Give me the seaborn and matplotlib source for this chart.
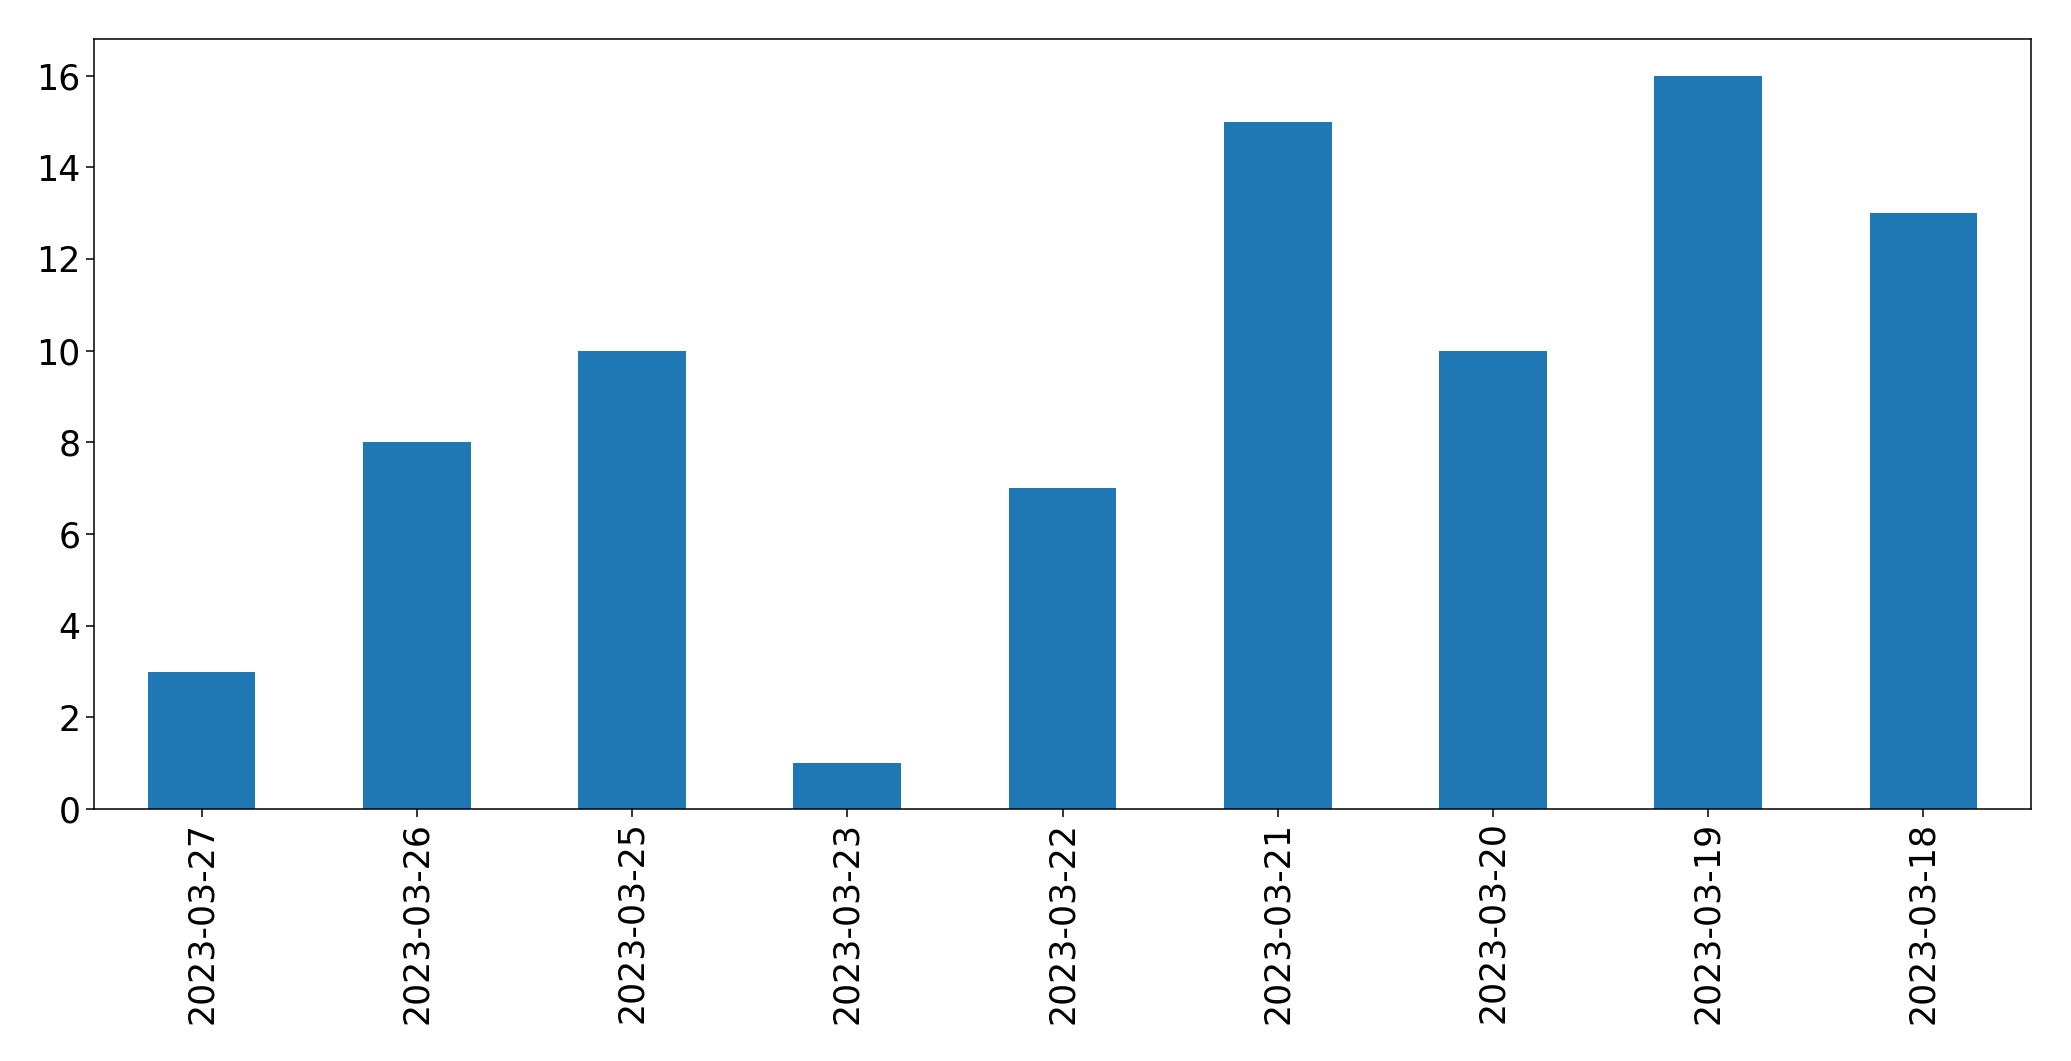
import matplotlib
matplotlib.use("Agg")
import matplotlib.pyplot as plt
import seaborn as sns
import pandas as pd

dates = ["2023-03-27", "2023-03-26", "2023-03-25", "2023-03-23", "2023-03-22",
         "2023-03-21", "2023-03-20", "2023-03-19", "2023-03-18"]
counts = [3, 8, 10, 1, 7, 15, 10, 16, 13]

df = pd.DataFrame({"date": dates, "count": counts})

fig = plt.figure(figsize=(20.71, 10.61), dpi=100)
ax = fig.add_axes([94 / 2071, 1 - 809 / 1061, (2031 - 94) / 2071, (809 - 39) / 1061])
sns.barplot(data=df, x="date", y="count", order=dates, color="#1f77b4",
            saturation=1, width=0.5, ax=ax)
ax.set_xlim(-0.5, len(dates) - 0.5)
ax.set_ylim(0, 16.8)
ax.set_yticks(range(0, 17, 2))
ax.set_xlabel("")
ax.set_ylabel("")
ax.tick_params(axis="both", labelsize=25.0, length=6, width=1.1)
ax.tick_params(axis="x", labelrotation=90, pad=3)
for s in ax.spines.values():
    s.set_linewidth(1.1)
fig.savefig("out.png", dpi=100)
